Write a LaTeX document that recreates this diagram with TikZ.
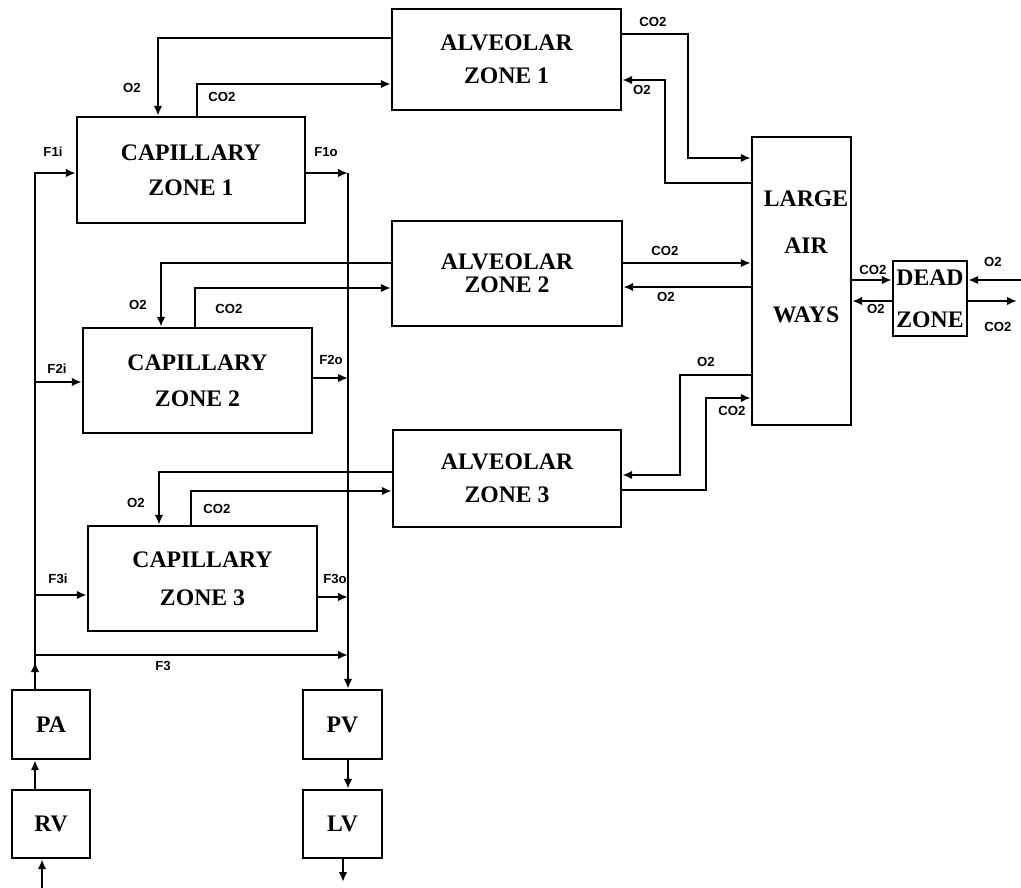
\documentclass[tikz,border=0pt]{standalone}
\usepackage{fontspec}
\setmainfont{Liberation Serif}
\setsansfont{Liberation Sans}
\usetikzlibrary{arrows.meta,calc}

\begin{document}
\begin{tikzpicture}[
    x=0.02cm, y=-0.02cm,
    boxtext/.style={align=center, font=\fontsize{13.5}{19}\selectfont\bfseries},
    box/.style={boxtext, draw, line width=1.4pt, inner sep=1pt},
    gas/.style={font=\fontsize{7.5}{8}\selectfont\sffamily\bfseries, inner sep=0pt},
    arr/.style={-{Latex[length=2mm,width=1.7mm]}, line width=1.2pt}
]
\useasboundingbox (0,0) rectangle (1021,888);

% Alveolar zones and airways.
\node[box, minimum width=4.58cm, minimum height=2.02cm] (alv1) at (506.5,59.5) {ALVEOLAR\\ZONE 1};
\node[box, minimum width=4.6cm, minimum height=2.1cm] (alv2) at (507,273.5) {ALVEOLAR\\[-6pt]ZONE 2};
\node[box, minimum width=4.56cm, minimum height=1.94cm] (alv3) at (507,478.5) {ALVEOLAR\\[-0.5pt]ZONE 3};
\node[box, minimum width=1.98cm, minimum height=5.76cm] (law) at (801.5,281) {};
\node[boxtext] (lawtext) at (806,257) {LARGE\\[7.6pt]AIR\\[20.7pt]WAYS};
\node[box, minimum width=1.48cm, minimum height=1.5cm, inner sep=0pt] (dead) at (930,298.5) {DEAD\\[4.8pt]ZONE};

% Capillary zones.
\node[box, minimum width=4.56cm, minimum height=2.12cm] (cap1) at (191,170) {CAPILLARY\\[1pt]ZONE 1};
\node[box, minimum width=4.58cm, minimum height=2.1cm] (cap2) at (197.5,380.5) {CAPILLARY\\[1.4pt]ZONE 2};
\node[box, minimum width=4.58cm, minimum height=2.1cm] (cap3) at (202.5,578.5) {CAPILLARY\\[2.5pt]ZONE 3};

% Heart and great vessels.
\node[box, minimum width=1.56cm, minimum height=1.38cm] (pa) at (51,724.5) {PA};
\node[box, minimum width=1.56cm, minimum height=1.36cm] (rv) at (51,824) {RV};
\node[box, minimum width=1.58cm, minimum height=1.38cm] (pv) at (342.5,724.5) {PV};
\node[box, minimum width=1.58cm, minimum height=1.36cm] (lv) at (342.5,824) {LV};

% Gas exchange, zone 1.
\draw[arr] (alv1.west |- 0,38) -| (cap1.north -| 158,0);
\draw[arr] (cap1.north -| 197,0) |- (alv1.west |- 0,84);
\draw[arr] (alv1.east |- 0,34) -- ++(66,0) |- (law.west |- 0,158);
\draw[arr] (law.west |- 0,183) -- ++(-86,0) |- (alv1.east |- 0,80);
\node[gas] (o2c1) at (132,88) {O2};
\node[gas] (co2c1) at (222,97) {CO2};
\node[gas] (co2a1) at (653,22) {CO2};
\node[gas] (o2a1) at (642,90) {O2};

% Gas exchange, zone 2.
\draw[arr] (alv2.west |- 0,263) -| (cap2.north -| 161,0);
\draw[arr] (cap2.north -| 195,0) |- (alv2.west |- 0,288);
\draw[arr] (alv2.east |- 0,263) -- (law.west |- 0,263);
\draw[arr] (law.west |- 0,287) -- (alv2.east |- 0,287);
\node[gas] (o2c2) at (138,305) {O2};
\node[gas] (co2c2) at (229,309) {CO2};
\node[gas] (co2a2) at (665,251) {CO2};
\node[gas] (o2a2) at (666,297) {O2};

% Gas exchange, zone 3.
\draw[arr] (alv3.west |- 0,472) -| (cap3.north -| 159,0);
\draw[arr] (cap3.north -| 191,0) |- (alv3.west |- 0,491);
\draw[arr] (law.west |- 0,375) -- ++(-71,0) |- (alv3.east |- 0,475);
\draw[arr] (alv3.east |- 0,490) -- ++(84,0) |- (law.west |- 0,398);
\node[gas] (o2c3) at (136,503) {O2};
\node[gas] (co2c3) at (217,509) {CO2};
\node[gas] (o2a3) at (706,362) {O2};
\node[gas] (co2a3) at (732,411) {CO2};

% Dead zone and outside air.
\coordinate (airin) at (1021,280);
\coordinate (airout) at (1017,301);
\draw[arr] (law.east |- 0,280) -- (dead.west |- 0,280);
\draw[arr] (dead.west |- 0,301) -- (law.east |- 0,301);
\draw[arr] (airin) -- (dead.east |- airin);
\draw[arr] (dead.east |- airout) -- (airout);
\node[gas] (co2l) at (873,270) {CO2};
\node[gas] (o2l) at (876,309) {O2};
\node[gas] (o2d) at (993,262) {O2};
\node[gas] (co2d) at (998,327) {CO2};

% Blood flow.
\coordinate (art) at (35,655);
\coordinate (ven) at (348,655);
\draw[arr] (pa.north -| art) |- (cap1.west |- 0,173);
\draw[arr] (art |- 0,382) -- (cap2.west |- 0,382);
\draw[arr] (art |- 0,595) -- (cap3.west |- 0,595);
\draw[arr] (art) -- (ven);
\draw[arr] (pa.north -| art) -- ($(art)+(0,7)$);
\draw[arr] (cap1.east |- 0,173) -- (ven |- 0,173);
\draw[arr] (cap2.east |- 0,378) -- (ven |- 0,378);
\draw[arr] (cap3.east |- 0,597) -- (ven |- 0,597);
\draw[arr] (ven |- 0,173) -- (pv.north -| ven);
\node[gas] (f1i) at (53,152) {F1i};
\node[gas] (f1o) at (326,152) {F1o};
\node[gas] (f2i) at (57,369) {F2i};
\node[gas] (f2o) at (331,360) {F2o};
\node[gas] (f3i) at (58,579) {F3i};
\node[gas] (f3o) at (335,579) {F3o};
\node[gas] (f3) at (163,666) {F3};

\coordinate (rvin) at (42,888);
\coordinate (lvout) at (343,882);
\draw[arr] (rvin) -- (rv.south -| rvin);
\draw[arr] (rv.north -| art) -- (pa.south -| art);
\draw[arr] (pv.south -| ven) -- (lv.north -| ven);
\draw[arr] (lv.south -| lvout) -- (lvout);
\end{tikzpicture}
\end{document}
